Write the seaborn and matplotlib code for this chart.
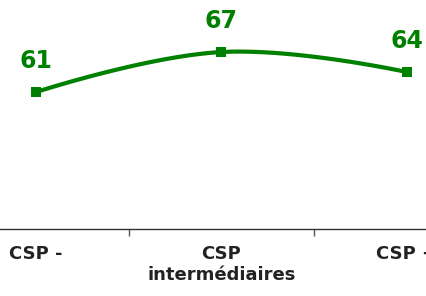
import numpy as np
import pandas as pd
import matplotlib
matplotlib.use("Agg")
import matplotlib.pyplot as plt
import seaborn as sns

categories = ["CSP -", "CSP\nintermédiaires", "CSP +"]
values = [61, 67, 64]

sns.set_theme(style="white")
plt.rcParams['font.family'] = ['DejaVu Sans']

fig = plt.figure(figsize=(4.27, 2.96), dpi=100)
ax = fig.add_axes([0, 0.2247, 1, 0.7753])

GREEN = "#008000"
x = np.arange(len(values), dtype=float)
y = np.array(values, dtype=float)

# Highcharts-like spline through the data points
smoothing, denom = 1.5, 2.5
segs_x, segs_y = [], []
lc = [None] * len(x)
rc = [None] * len(x)
for i in range(1, len(x) - 1):
    lx = (smoothing * x[i] + x[i - 1]) / denom
    ly = (smoothing * y[i] + y[i - 1]) / denom
    rx = (smoothing * x[i] + x[i + 1]) / denom
    ry = (smoothing * y[i] + y[i + 1]) / denom
    corr = ((ry - ly) * (rx - x[i])) / (rx - lx) + y[i] - ry
    lc[i] = (lx, ly + corr)
    rc[i] = (rx, ry + corr)
t = np.linspace(0, 1, 60)
for i in range(len(x) - 1):
    p0 = (x[i], y[i])
    p1 = rc[i] if rc[i] is not None else p0
    p3 = (x[i + 1], y[i + 1])
    p2 = lc[i + 1] if lc[i + 1] is not None else p3
    bx = (1 - t) ** 3 * p0[0] + 3 * (1 - t) ** 2 * t * p1[0] + 3 * (1 - t) * t ** 2 * p2[0] + t ** 3 * p3[0]
    by = (1 - t) ** 3 * p0[1] + 3 * (1 - t) ** 2 * t * p1[1] + 3 * (1 - t) * t ** 2 * p2[1] + t ** 3 * p3[1]
    segs_x.append(bx)
    segs_y.append(by)
curve = pd.DataFrame({"x": np.concatenate(segs_x), "y": np.concatenate(segs_y)})
sns.lineplot(data=curve, x="x", y="y", sort=False, estimator=None, color=GREEN,
             linewidth=3.0, ax=ax)
pts = pd.DataFrame({"x": x, "y": y})
sns.scatterplot(data=pts, x="x", y="y", marker="s", s=45, color=GREEN,
                edgecolor=GREEN, linewidth=0, ax=ax, zorder=5)

for xi, yi in zip(x, values):
    ax.annotate(str(yi), (xi, yi), xytext=(0, 14), textcoords="offset points",
                ha="center", va="bottom", fontsize=17, fontweight="bold", color=GREEN)

ax.set_xlim(-0.194, 2.108)
ax.set_ylim(40.4, 74.8)
ax.set_xlabel("")
ax.set_ylabel("")
ax.set_yticks([])
ax.set_xticks([0.5, 1.5])
ax.set_xticklabels([])
ax.set_xticks(x, minor=True)
ax.set_xticklabels(categories, minor=True)
ax.tick_params(axis="x", which="major", length=5, width=1, color="#555555", direction="out", bottom=True)
ax.tick_params(axis="x", which="minor", length=0, pad=11, labelsize=13, labelcolor="#222222")
for lab in ax.get_xticklabels(minor=True):
    lab.set_fontweight("bold")
    lab.set_linespacing(1.25)
for s in ["top", "right", "left"]:
    ax.spines[s].set_visible(False)
ax.spines["bottom"].set_color("#333333")
ax.spines["bottom"].set_linewidth(1)
ax.patch.set_alpha(0)

fig.savefig("out.png", dpi=100)
